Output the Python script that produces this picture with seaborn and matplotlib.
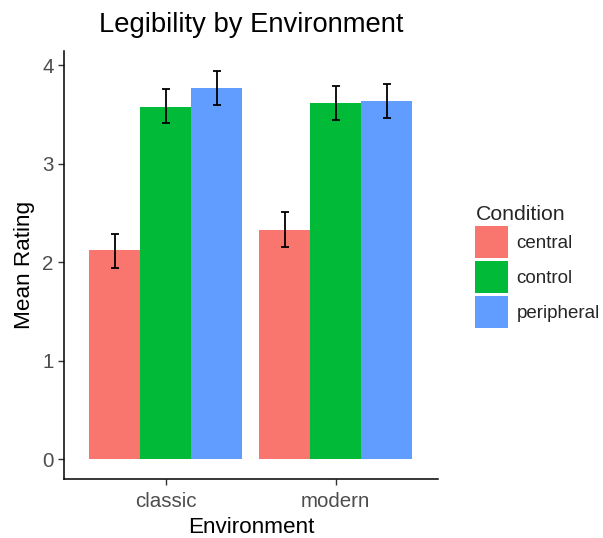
import matplotlib
matplotlib.use("Agg")
import matplotlib.pyplot as plt
import seaborn as sns
import pandas as pd
from matplotlib.patches import Patch

# Mean legibility ratings with standard errors
environments = ["classic", "classic", "classic", "modern", "modern", "modern"]
conditions = ["central", "control", "peripheral", "central", "control", "peripheral"]
mean_rating = [2.12, 3.58, 3.77, 2.33, 3.62, 3.64]
lower = [1.94, 3.41, 3.60, 2.15, 3.44, 3.46]
upper = [2.29, 3.76, 3.94, 2.51, 3.79, 3.81]

condition_order = ["central", "control", "peripheral"]
env_order = ["classic", "modern"]
palette = ["#F8766D", "#00BA38", "#619CFF"]

df = pd.DataFrame({"Environment": environments, "Condition": conditions,
                   "Mean": mean_rating, "lo": lower, "hi": upper})

sns.set_style("white")
plt.rcParams["font.family"] = ["Liberation Sans", "DejaVu Sans"]

fig = plt.figure(figsize=(6.03, 5.38), dpi=100)
ax = fig.add_axes([0.106, 0.110, 0.620, 0.795])

sns.barplot(data=df, x="Environment", y="Mean", hue="Condition",
            order=env_order, hue_order=condition_order, palette=palette,
            width=0.9, errorbar=None, saturation=1, linewidth=0, ax=ax,
            legend=False)

# Error bars placed at the centre of each drawn bar
for cond, container in zip(condition_order, ax.containers):
    for env, bar in zip(env_order, container):
        row = df[(df.Environment == env) & (df.Condition == cond)].iloc[0]
        xc = bar.get_x() + bar.get_width() / 2
        ax.errorbar(xc, row.Mean, yerr=[[row.Mean - row.lo], [row.hi - row.Mean]],
                    fmt="none", ecolor="black", elinewidth=1.3, capsize=3.2,
                    capthick=1.3)

ax.set_xlim(-0.6, 1.6)
ax.set_ylim(-0.197, 4.142)
ax.set_yticks([0, 1, 2, 3, 4])
ax.set_yticklabels(["0", "1", "2", "3", "4"])

for side in ["top", "right"]:
    ax.spines[side].set_visible(False)
for side in ["left", "bottom"]:
    ax.spines[side].set_color("black")
    ax.spines[side].set_linewidth(1.1)

ax.tick_params(axis="both", which="both", length=4.5, width=1.0, color="#333333",
               labelcolor="#4D4D4D", labelsize=14.8, left=True, bottom=True)
ax.tick_params(axis="x", pad=5)
ax.tick_params(axis="y", pad=3)

ax.set_xlabel("Environment", fontsize=16.2, color="black", labelpad=4)
ax.set_ylabel("Mean Rating", fontsize=16.2, color="black", labelpad=5)
ax.set_title("Legibility by Environment", fontsize=19.7, color="black", pad=14)

handles = [Patch(facecolor=c, edgecolor="none") for c in palette]
leg = fig.legend(handles, condition_order, title="Condition",
                 loc="center left", bbox_to_anchor=(0.776, 0.505),
                 frameon=False, fontsize=13.5, title_fontsize=15.3,
                 handlelength=1.75, handleheight=2.25, handletextpad=0.45,
                 labelspacing=0.15, borderaxespad=0)
leg._legend_box.align = "left"

fig.savefig("out.png", dpi=100, facecolor="white")
